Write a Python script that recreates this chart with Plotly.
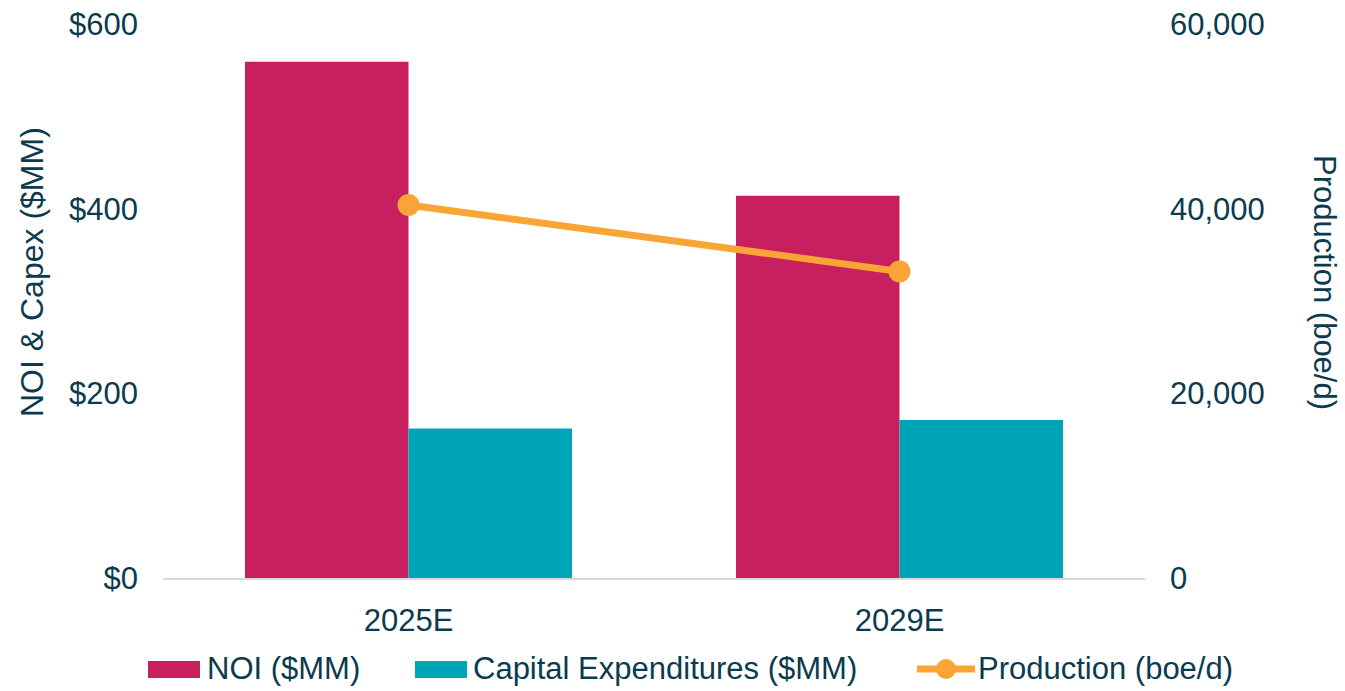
import plotly.graph_objects as go

# Data
years = ["2025E", "2029E"]
noi = [559, 414]            # NOI ($MM)
capex = [162, 171]          # Capital Expenditures ($MM)
production = [40400, 33200] # Production (boe/d)

# Colours / fonts
noiCol = '#C8205F'
capexCol = '#00A4B7'
prodCol = '#F9A535'
textCol = '#0B3B4F'
fontFam = 'Liberation Sans, Arial, sans-serif'

# Plot area in pixels (used to place the hand-built legend)
L, R, T, B = 163, 1145, 24, 578


def px_x(p):
    return (p - L) / (R - L)


def px_y(p):
    return (B - p) / (B - T)


fig = go.Figure()

fig.add_trace(go.Bar(x=years, y=noi, name='NOI ($MM)', marker=dict(color=noiCol, line=dict(width=0))))
fig.add_trace(go.Bar(x=years, y=capex, name='Capital Expenditures ($MM)', marker=dict(color=capexCol, line=dict(width=0))))
fig.add_trace(go.Scatter(x=years, y=production, name='Production (boe/d)', yaxis='y2',
                         mode='lines+markers',
                         line=dict(color=prodCol, width=7),
                         marker=dict(color=prodCol, size=22)))

# Legend built with shapes + annotations so the keys look like the original
legend_y = px_y(669)
shapes = [
    dict(type='rect', xref='paper', yref='paper', x0=px_x(148), x1=px_x(200), y0=px_y(678), y1=px_y(661),
         fillcolor=noiCol, line=dict(width=0)),
    dict(type='rect', xref='paper', yref='paper', x0=px_x(415), x1=px_x(467), y0=px_y(678), y1=px_y(661),
         fillcolor=capexCol, line=dict(width=0)),
    dict(type='line', xref='paper', yref='paper', x0=px_x(917), x1=px_x(975), y0=legend_y, y1=legend_y,
         line=dict(color=prodCol, width=7)),
    dict(type='circle', xref='paper', yref='paper', x0=px_x(936), x1=px_x(956), y0=px_y(679), y1=px_y(659),
         fillcolor=prodCol, line=dict(width=0)),
]

annotations = []
for label, xp in [('NOI ($MM)', 205), ('Capital Expenditures ($MM)', 471), ('Production (boe/d)', 976)]:
    annotations.append(dict(text=label, xref='paper', yref='paper', x=px_x(xp), y=px_y(668),
                            xanchor='left', yanchor='middle', showarrow=False,
                            font=dict(size=31, color=textCol, family=fontFam)))

# Axis titles
annotations.append(dict(text='NOI & Capex ($MM)', xref='paper', yref='paper', x=px_x(32), y=px_y(272),
                        xanchor='center', yanchor='middle', textangle=-90, showarrow=False,
                        font=dict(size=32, color=textCol, family=fontFam)))
annotations.append(dict(text='Production (boe/d)', xref='paper', yref='paper', x=px_x(1325), y=px_y(282),
                        xanchor='center', yanchor='middle', textangle=90, showarrow=False,
                        font=dict(size=31, color=textCol, family=fontFam)))

fig.update_layout(
    width=1345,
    height=691,
    margin=dict(l=L, r=1345 - R, t=T, b=691 - B, autoexpand=False),
    plot_bgcolor='white',
    paper_bgcolor='white',
    barmode='group',
    bargap=0.334,
    bargroupgap=0,
    showlegend=False,
    font=dict(family=fontFam, size=31, color=textCol),
    xaxis=dict(showgrid=False, showline=True, linecolor='#D9D9D9', linewidth=2,
               ticks='', ticklabelstandoff=14, zeroline=False, automargin=False),
    yaxis=dict(range=[0, 600], dtick=200, tickprefix='$', showgrid=False, zeroline=False,
               ticks='', ticklabelstandoff=24, automargin=False),
    yaxis2=dict(range=[0, 60000], dtick=20000, tickformat=',', overlaying='y', side='right',
                showgrid=False, zeroline=False, ticks='', ticklabelstandoff=24, automargin=False),
    shapes=shapes,
    annotations=annotations,
)

# drop the default page margin so the figure sits at the window's top-left corner
fig.write_html("out.html", config={'displayModeBar': False},
               post_script="document.body.style.margin='0';")
